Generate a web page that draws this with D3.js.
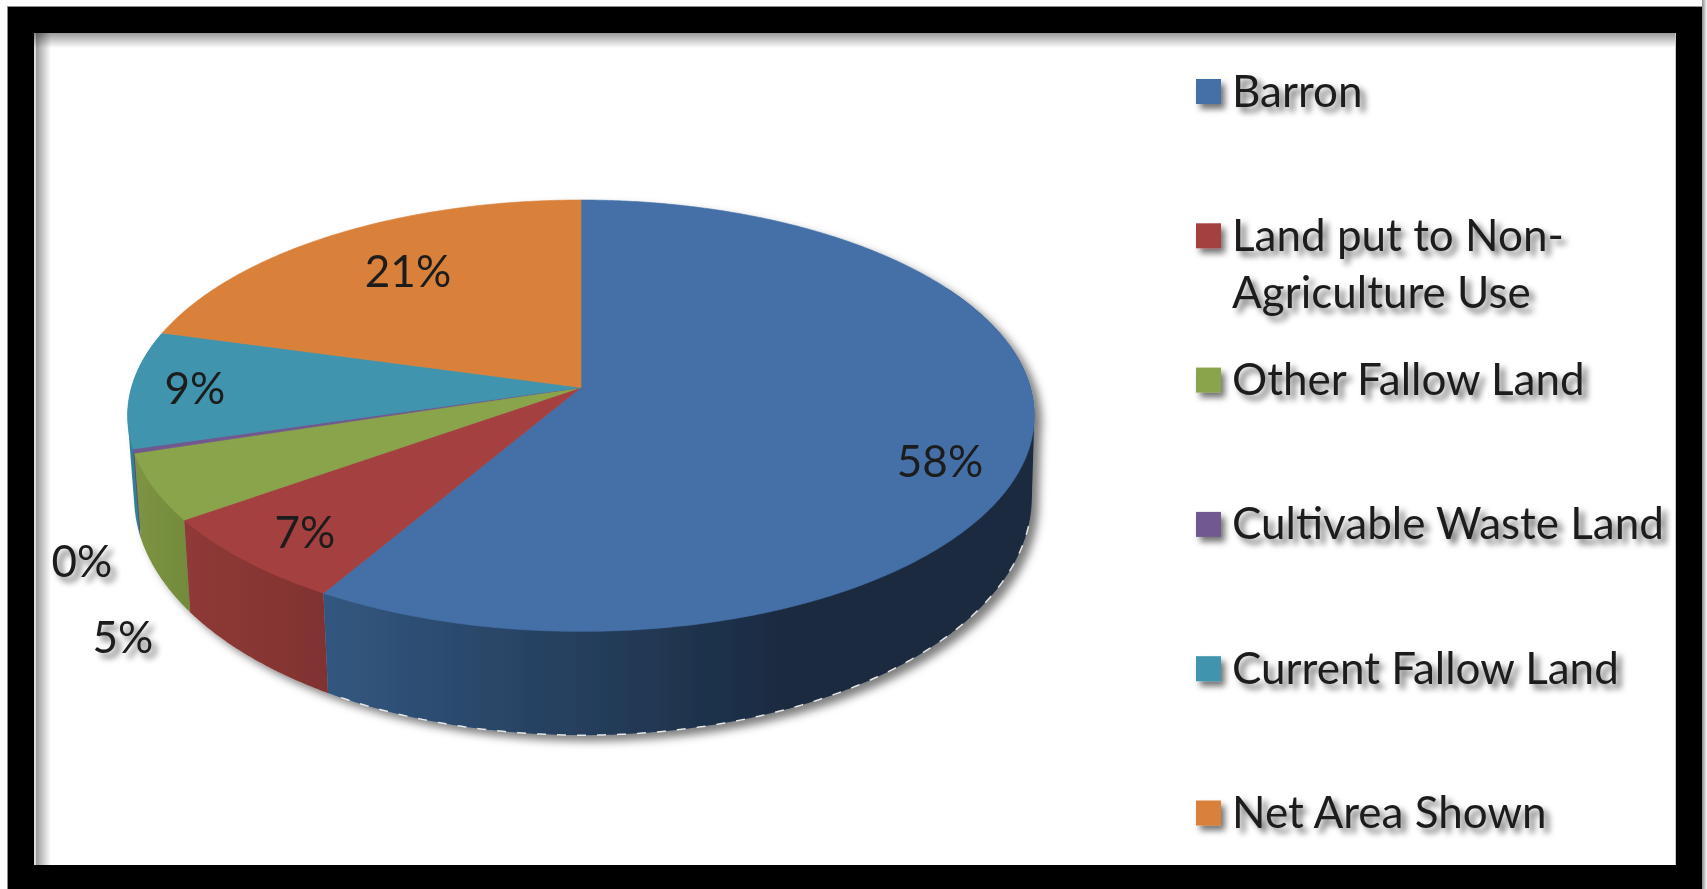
<!DOCTYPE html>
<html>
<head>
<meta charset="utf-8">
<script src="https://cdn.jsdelivr.net/npm/d3@7/dist/d3.min.js"></script>
<style>
html,body{margin:0;padding:0;background:#fff;overflow:hidden}
svg{display:block}
text{font-family:Lato,"Open Sans",sans-serif;fill:#1d1d1d}
</style>
</head>
<body>
<svg id="chart" width="1707" height="889"></svg>
<script>
// ---- data ----
const categories = ["Barron","Land put to Non-Agriculture Use","Other Fallow Land","Cultivable Waste Land","Current Fallow Land","Net Area Shown"];
const legendLines = [["Barron"],["Land put to Non-","Agriculture Use"],["Other Fallow Land"],["Cultivable Waste Land"],["Current Fallow Land"],["Net Area Shown"]];
const values = [58.49,6.7,5.0,0.3,8.8,20.71];

// ---- styles ----
const topColors = ["#4570a7","#a5413f","#8aa44c","#71588f","#3f94ae","#d9813b"];
const wallStops = [["#335780","#1a2a40"],["#8f3a38","#803230"],["#7d9443","#728a3c"],["#5f4a7a","#5f4a7a"],["#357f94","#357f94"],["#b56b30","#b56b30"]];
const labelCenters = [[940,460],[305,531],[123,636],[82,560],[195,387],[408,270]];
const labelShadow = [false,false,true,true,false,false];

// ---- geometry of the tilted pie (perspective projection of a disc) ----
const k = 0.1307;
const topPlane = {cx:581, cy:387.5, a:449.5, b:212};
const basePlane = {cx:583, cy:466, a:445, b:234};
function project(t, r, pl){
  const u = r*Math.sin(t), v = -r*Math.cos(t), w = 1 - k*v;
  return [pl.cx + pl.a*u/w, pl.cy + pl.b*v/w];
}
const step = Math.PI/360;
const arcPts = (t0,t1,pl) => {
  const n = Math.max(1, Math.ceil((t1-t0)/step));
  return d3.range(n+1).map(i => project(t0+(t1-t0)*i/n, 1, pl));
};
const line = d3.line();
const svg = d3.select("#chart");
const defs = svg.append("defs");

// frame
svg.append("rect").attr("width",1707).attr("height",889).attr("fill","#fff");
const edge = defs.append("linearGradient").attr("id","edgeR");
edge.append("stop").attr("offset",0).attr("stop-color","#8a8a8a");
edge.append("stop").attr("offset",1).attr("stop-color","#fafafa");
svg.append("rect").attr("x",1702).attr("y",0).attr("width",5).attr("height",889).attr("fill","url(#edgeR)");
svg.append("rect").attr("x",7).attr("y",6).attr("width",1695).attr("height",883).attr("fill","#8c8c8c");
svg.append("rect").attr("x",8).attr("y",7).attr("width",1694).attr("height",882).attr("fill","#000");
svg.append("rect").attr("x",34).attr("y",33).attr("width",1642).attr("height",832).attr("fill","#fff");
const gl = defs.append("linearGradient").attr("id","edgeL");
gl.append("stop").attr("offset",0).attr("stop-color","#9a9a9a");
gl.append("stop").attr("offset",1).attr("stop-color","#ffffff");
const gt = defs.append("linearGradient").attr("id","edgeT").attr("x1",0).attr("y1",0).attr("x2",0).attr("y2",1);
gt.append("stop").attr("offset",0).attr("stop-color","#9a9a9a");
gt.append("stop").attr("offset",1).attr("stop-color","#ffffff");
svg.append("rect").attr("x",36).attr("y",33).attr("width",15).attr("height",832).attr("fill","url(#edgeL)");
svg.append("rect").attr("x",34).attr("y",33).attr("width",2).attr("height",832).attr("fill","#dedede");
svg.append("rect").attr("x",34).attr("y",33).attr("width",1642).attr("height",15).attr("fill","url(#edgeT)").attr("style","mix-blend-mode:multiply");
svg.append("rect").attr("x",1675).attr("y",33).attr("width",1).attr("height",832).attr("fill","#c8c8c8");

// filters
const sh = defs.append("filter").attr("id","pieShadow").attr("x","-10%").attr("y","-10%").attr("width","120%").attr("height","120%");
sh.append("feDropShadow").attr("dx",7).attr("dy",6).attr("stdDeviation",4.5).attr("flood-color","#000").attr("flood-opacity",0.5);
const ts = defs.append("filter").attr("id","textShadow").attr("x","-15%").attr("y","-30%").attr("width","130%").attr("height","170%");
ts.append("feGaussianBlur").attr("in","SourceGraphic").attr("stdDeviation",0.6).attr("result","soft");
ts.append("feDropShadow").attr("in","soft").attr("dx",5).attr("dy",5).attr("stdDeviation",3).attr("flood-color","#000").attr("flood-opacity",0.6);
const tb = defs.append("filter").attr("id","textSoft");
tb.append("feGaussianBlur").attr("stdDeviation",0.6);
const bs = defs.append("filter").attr("id","boxShadow").attr("x","-40%").attr("y","-40%").attr("width","190%").attr("height","190%");
bs.append("feDropShadow").attr("dx",4).attr("dy",5).attr("stdDeviation",3).attr("flood-color","#000").attr("flood-opacity",0.55);

// pie
const slices = d3.pie().sort(null).value(d=>d)(values);
const pieG = svg.append("g").attr("filter","url(#pieShadow)");
const wallFrom = Math.PI/3, wallTo = 285/180*Math.PI;

// side walls, back to front: later slices first so the nearer walls overlap them
d3.range(slices.length-1,-1,-1).forEach(i=>{
  const s = slices[i];
  const a0 = Math.max(s.startAngle, wallFrom), a1 = Math.min(s.endAngle, wallTo);
  if (a1 <= a0) return;
  const topEdge = arcPts(a0,a1,topPlane), baseEdge = arcPts(a0,a1,basePlane);
  const hull = d3.polygonHull(topEdge.concat(baseEdge));
  let x1 = d3.min(hull,p=>p[0]), x2 = d3.max(hull,p=>p[0]);
  if (i===0){ x1 = 322; x2 = 790; }
  const g = defs.append("linearGradient").attr("id","wall"+i).attr("gradientUnits","userSpaceOnUse")
    .attr("x1",x1).attr("x2",x2).attr("y1",0).attr("y2",0);
  g.append("stop").attr("offset",0).attr("stop-color",wallStops[i][0]);
  g.append("stop").attr("offset",1).attr("stop-color",wallStops[i][1]);
  pieG.append("path").attr("d",line(hull)+"Z").attr("fill","url(#wall"+i+")");
});

pieG.selectAll("path.top").data(slices).enter().append("path").attr("class","top")
  .attr("d",s=>line([project(0,0,topPlane)].concat(arcPts(s.startAngle,s.endAngle,topPlane)))+"Z")
  .attr("fill",(s,i)=>topColors[i]).attr("stroke",(s,i)=>topColors[i]).attr("stroke-width",0.6);

// speckled light rim along the outer base edge
svg.append("path").attr("d",line(arcPts(Math.PI*0.58,Math.PI*1.16,basePlane)))
  .attr("fill","none").attr("stroke","#e6e6e6").attr("stroke-width",1.5).attr("stroke-dasharray","9 11");

// value labels
const pct = d3.format(".0%");
svg.selectAll("text.val").data(values).enter().append("text").attr("class","val")
  .attr("x",(d,i)=>labelCenters[i][0]).attr("y",(d,i)=>labelCenters[i][1])
  .attr("text-anchor","middle").attr("dominant-baseline","central")
  .attr("font-size",44)
  .attr("filter",(d,i)=>labelShadow[i]?"url(#textShadow)":"url(#textSoft)")
  .text(d=>pct(d/100));

// legend
const rowY = d3.scalePoint().domain(categories).range([91.5,813]);
const legend = svg.selectAll("g.leg").data(categories).enter().append("g").attr("class","leg");
legend.append("rect").attr("x",1196).attr("y",c=>rowY(c)-12.5).attr("width",25).attr("height",25)
  .attr("fill",(c,i)=>topColors[i]).attr("filter","url(#boxShadow)");
legend.append("text").attr("filter","url(#textShadow)").attr("font-size",44)
  .each(function(c,i){
    d3.select(this).selectAll("tspan").data(legendLines[i]).enter().append("tspan")
      .attr("x",1232).attr("y",(l,j)=>rowY(c)+15+j*57).text(l=>l);
  });
</script>
</body>
</html>
